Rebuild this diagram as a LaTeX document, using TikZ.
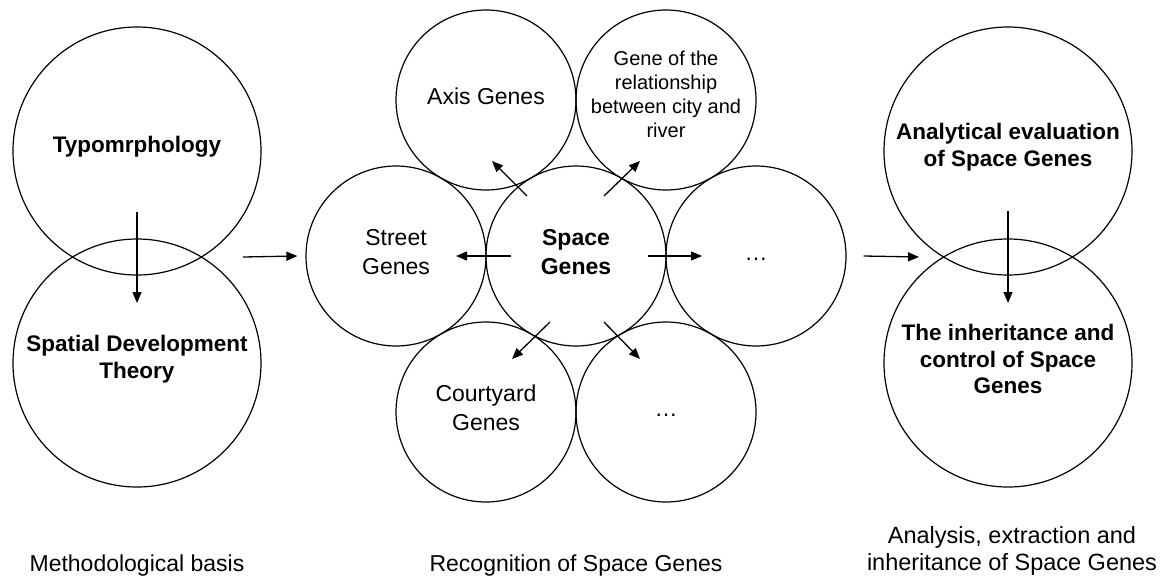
\documentclass[tikz,border=0pt]{standalone}
\usepackage{fontspec}
\setmainfont{Liberation Sans}
\usetikzlibrary{arrows.meta,calc}
\begin{document}
\begin{tikzpicture}[x=1pt,y=-1pt,
  ring/.style={circle,draw,line width=1.2pt,minimum size=#1,inner sep=0pt},
  bigring/.style={ring=248pt},
  smallring/.style={ring=180pt},
  txt/.style={font=\fontsize{23}{29}\selectfont,align=center,inner sep=0pt},
  smalltxt/.style={font=\fontsize{20}{24}\selectfont,align=center,inner sep=0pt},
  boldtxt/.style={font=\fontsize{22.5}{26.5}\selectfont\bfseries,align=center,inner sep=0pt},
  link/.style={line width=1.3pt,-{Triangle[length=11pt,width=9pt]}}
]
\useasboundingbox (0,0) rectangle (1170,582);

% methodological basis
\node[bigring] (typo) at (137,151) {};
\node[bigring] (sdt) at (137,363) {};
\node[boldtxt] at ($(typo)+(0,-4)$) {Typomrphology};
\node[boldtxt] at ($(sdt)+(0,-4)$) {Spatial Development\\Theory};

% recognition cluster
\node[smallring] (sg) at (576,256) {};
\node[smallring] (street) at (396,256) {};
\node[smallring] (axis) at (486,100) {};
\node[smallring] (rel) at (666,100) {};
\node[smallring] (dots) at (756,256) {};
\node[smallring] (court) at (486,412) {};
\node[smallring] (dots2) at (666,412) {};
\node[boldtxt,font=\fontsize{23}{29}\selectfont\bfseries] at ($(sg)+(0,-4)$) {Space\\Genes};
\node[txt] at ($(street)+(0,-4)$) {Street\\Genes};
\node[txt] at ($(axis)+(0,-4)$) {Axis Genes};
\node[smalltxt] at ($(rel)+(0,-6)$) {Gene of the\\relationship\\between city and\\river};
\node[txt] at ($(dots)+(0,3)$) {…};
\node[txt] at ($(court)+(0,-4)$) {Courtyard\\Genes};
\node[txt] at ($(dots2)+(0,3)$) {…};

% analysis and inheritance
\node[bigring] (eval) at (1008,151) {};
\node[bigring] (inherit) at (1008,363) {};
\node[boldtxt] at ($(eval)+(0,-4)$) {Analytical evaluation\\of Space Genes};
\node[boldtxt] at ($(inherit)+(0,-4)$) {The inheritance and\\control of Space\\Genes};

% connectors
\draw[link] ($(typo)+(0,61)$) -- ($(sdt)+(0,-60)$);
\draw[link] ($(typo)!0.5!(sdt)+(106,0)$) -- ($(street.west)+(-8,0)$);
\draw[link] ($(sg)+(-65,0)$) -- ($(street)+(60,0)$);
\draw[link] ($(sg)+(-49,-60)$) -- ($(axis)+(6,61)$);
\draw[link] ($(sg)+(28,-60)$) -- ($(rel)+(-26,61)$);
\draw[link] ($(sg)+(72,0)$) -- ($(dots)+(-54,0)$);
\draw[link] ($(sg)+(-26,66)$) -- ($(court)+(26,-53)$);
\draw[link] ($(sg)+(28,66)$) -- ($(dots2)+(-26,-53)$);
\draw[link] ($(dots.east)+(17,0)$) -- ($(eval)!0.5!(inherit)+(-89,0)$);
\draw[link] ($(eval)+(0,60)$) -- ($(inherit)+(0,-60)$);

% column captions
\node[txt,anchor=base] (cap1) at (137,571) {Methodological basis};
\node[txt,anchor=base] (cap2) at (576,571) {Recognition of Space Genes};
\node[txt,font=\fontsize{23.5}{27}\selectfont] (cap3) at (1012,551) {Analysis, extraction and\\inheritance of Space Genes};
\end{tikzpicture}
\end{document}
